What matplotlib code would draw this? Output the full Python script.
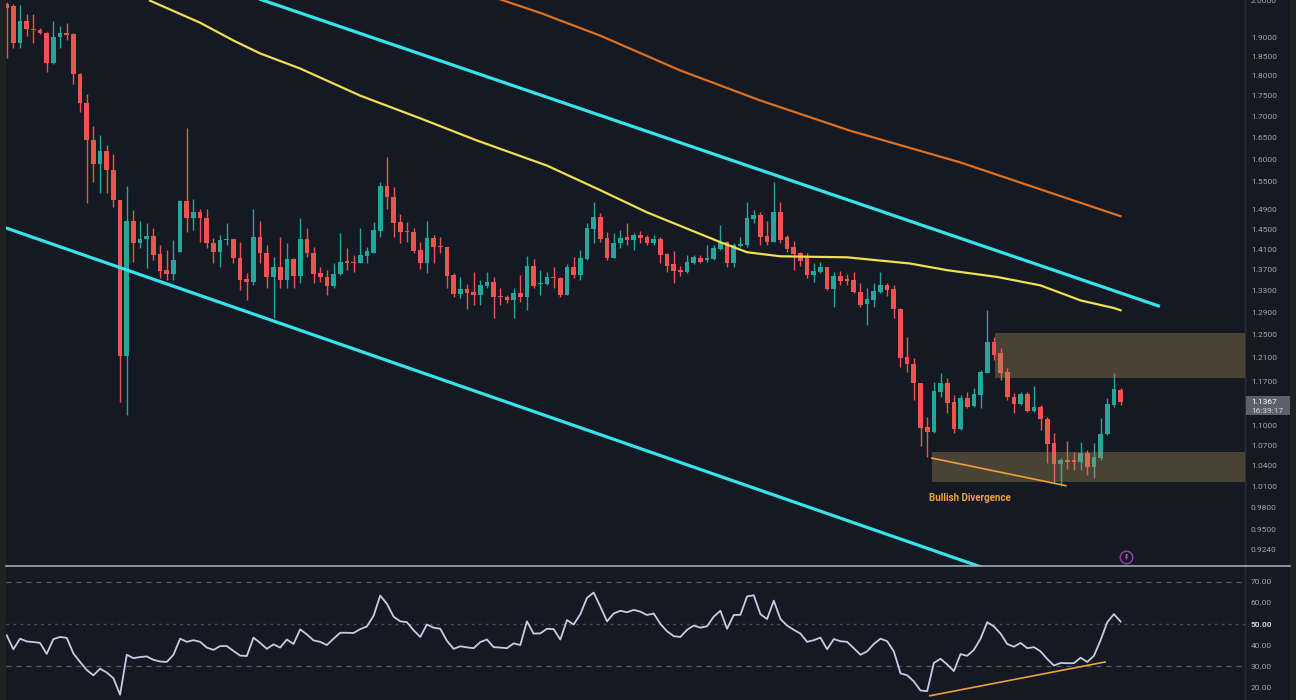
import matplotlib
matplotlib.use('Agg')
import matplotlib.pyplot as plt
from matplotlib import transforms as mtransforms
from matplotlib.patches import Rectangle
from matplotlib.lines import Line2D
from matplotlib.ticker import FixedLocator, FixedFormatter, NullLocator

# 캔들 데이터
opens = [1.992, 1.986, 1.885, 1.945, 1.923, 1.919, 1.912, 1.831, 1.901, 1.912,
         1.909, 1.805, 1.733, 1.645, 1.589, 1.620, 1.577, 1.510, 1.213, 1.468,
         1.422, 1.430, 1.436, 1.400, 1.369, 1.361, 1.404, 1.508, 1.473, 1.485,
         1.473, 1.422, 1.404, 1.428, 1.430, 1.392, 1.352, 1.346, 1.434, 1.402,
         1.356, 1.375, 1.350, 1.390, 1.357, 1.430, 1.402, 1.363, 1.356, 1.338,
         1.361, 1.386, 1.384, 1.382, 1.396, 1.402, 1.446, 1.542, 1.517, 1.464,
         1.446, 1.444, 1.408, 1.382, 1.432, 1.416, 1.414, 1.359, 1.323, 1.333,
         1.327, 1.322, 1.338, 1.346, 1.320, 1.318, 1.312, 1.325, 1.318, 1.377,
         1.342, 1.342, 1.356, 1.354, 1.322, 1.375, 1.359, 1.390, 1.450, 1.475,
         1.432, 1.392, 1.422, 1.434, 1.428, 1.438, 1.434, 1.422, 1.430, 1.400,
         1.380, 1.369, 1.365, 1.382, 1.392, 1.388, 1.390, 1.410, 1.424, 1.382,
         1.416, 1.418, 1.471, 1.479, 1.436, 1.424, 1.485, 1.434, 1.414, 1.402,
         1.392, 1.359, 1.365, 1.375, 1.333, 1.357, 1.352, 1.350, 1.327, 1.305,
         1.312, 1.327, 1.340, 1.333, 1.296, 1.211, 1.200, 1.168, 1.098, 1.090,
         1.153, 1.168, 1.137, 1.095, 1.143, 1.131, 1.148, 1.185, 1.237, 1.218,
         1.186, 1.145, 1.134, 1.150, 1.123, 1.129, 1.110, 1.074, 1.042, 1.048,
         1.047, 1.045, 1.059, 1.038, 1.051, 1.087, 1.132, 1.157]
highs = [1.997, 1.992, 1.989, 1.964, 1.964, 1.926, 1.913, 1.945, 1.929, 1.939,
         1.910, 1.806, 1.753, 1.678, 1.655, 1.632, 1.613, 1.510, 1.542, 1.489,
         1.468, 1.462, 1.452, 1.418, 1.408, 1.428, 1.510, 1.671, 1.514, 1.493,
         1.493, 1.432, 1.438, 1.462, 1.430, 1.424, 1.363, 1.493, 1.468, 1.418,
         1.394, 1.434, 1.422, 1.392, 1.473, 1.452, 1.414, 1.375, 1.369, 1.382,
         1.442, 1.412, 1.398, 1.452, 1.414, 1.464, 1.549, 1.606, 1.538, 1.481,
         1.466, 1.452, 1.424, 1.468, 1.438, 1.434, 1.414, 1.363, 1.356, 1.342,
         1.365, 1.350, 1.365, 1.356, 1.335, 1.322, 1.336, 1.359, 1.396, 1.390,
         1.369, 1.365, 1.375, 1.356, 1.380, 1.394, 1.408, 1.462, 1.506, 1.483,
         1.444, 1.442, 1.448, 1.462, 1.442, 1.446, 1.438, 1.438, 1.434, 1.402,
         1.406, 1.378, 1.398, 1.398, 1.398, 1.418, 1.418, 1.458, 1.426, 1.422,
         1.434, 1.506, 1.489, 1.485, 1.468, 1.549, 1.506, 1.438, 1.426, 1.404,
         1.402, 1.382, 1.384, 1.375, 1.365, 1.367, 1.361, 1.365, 1.344, 1.336,
         1.344, 1.365, 1.344, 1.340, 1.298, 1.246, 1.210, 1.168, 1.113, 1.170,
         1.185, 1.176, 1.148, 1.148, 1.153, 1.160, 1.190, 1.294, 1.246, 1.227,
         1.193, 1.151, 1.153, 1.153, 1.163, 1.132, 1.113, 1.089, 1.051, 1.077,
         1.060, 1.075, 1.063, 1.074, 1.112, 1.143, 1.185, 1.160]
lows = [1.844, 1.872, 1.872, 1.904, 1.885, 1.909, 1.810, 1.829, 1.872, 1.893,
        1.780, 1.709, 1.504, 1.549, 1.527, 1.527, 1.496, 1.137, 1.117, 1.384,
        1.412, 1.373, 1.388, 1.354, 1.350, 1.350, 1.404, 1.444, 1.448, 1.424,
        1.412, 1.382, 1.375, 1.418, 1.382, 1.331, 1.312, 1.340, 1.382, 1.336,
        1.280, 1.335, 1.335, 1.336, 1.344, 1.394, 1.344, 1.346, 1.322, 1.335,
        1.359, 1.369, 1.365, 1.382, 1.382, 1.402, 1.434, 1.493, 1.434, 1.422,
        1.424, 1.402, 1.371, 1.363, 1.382, 1.402, 1.336, 1.318, 1.316, 1.296,
        1.303, 1.303, 1.335, 1.280, 1.303, 1.307, 1.280, 1.309, 1.294, 1.336,
        1.322, 1.340, 1.336, 1.318, 1.322, 1.354, 1.350, 1.388, 1.422, 1.424,
        1.388, 1.392, 1.412, 1.418, 1.408, 1.422, 1.418, 1.418, 1.382, 1.365,
        1.344, 1.357, 1.363, 1.380, 1.382, 1.384, 1.388, 1.408, 1.375, 1.375,
        1.414, 1.414, 1.462, 1.418, 1.418, 1.424, 1.422, 1.404, 1.369, 1.378,
        1.354, 1.346, 1.363, 1.331, 1.299, 1.340, 1.340, 1.325, 1.299, 1.267,
        1.299, 1.325, 1.320, 1.280, 1.195, 1.186, 1.140, 1.069, 1.053, 1.089,
        1.145, 1.120, 1.089, 1.093, 1.128, 1.129, 1.128, 1.185, 1.206, 1.173,
        1.140, 1.120, 1.132, 1.121, 1.121, 1.093, 1.044, 1.015, 1.011, 1.035,
        1.034, 1.034, 1.026, 1.022, 1.048, 1.086, 1.129, 1.132]
closes = [1.980, 1.885, 1.945, 1.923, 1.918, 1.911, 1.831, 1.901, 1.912, 1.907,
          1.805, 1.733, 1.645, 1.589, 1.620, 1.577, 1.510, 1.213, 1.468, 1.422,
          1.430, 1.436, 1.398, 1.367, 1.361, 1.388, 1.508, 1.473, 1.485, 1.473,
          1.422, 1.404, 1.428, 1.430, 1.392, 1.350, 1.346, 1.434, 1.402, 1.356,
          1.375, 1.350, 1.390, 1.357, 1.430, 1.402, 1.361, 1.356, 1.338, 1.361,
          1.384, 1.382, 1.382, 1.398, 1.406, 1.448, 1.542, 1.517, 1.462, 1.444,
          1.444, 1.406, 1.382, 1.432, 1.414, 1.414, 1.357, 1.323, 1.333, 1.325,
          1.322, 1.340, 1.346, 1.318, 1.318, 1.312, 1.325, 1.318, 1.377, 1.338,
          1.344, 1.356, 1.354, 1.322, 1.375, 1.359, 1.392, 1.452, 1.475, 1.430,
          1.392, 1.422, 1.432, 1.428, 1.438, 1.432, 1.422, 1.430, 1.398, 1.378,
          1.367, 1.365, 1.384, 1.394, 1.384, 1.392, 1.412, 1.424, 1.382, 1.418,
          1.420, 1.473, 1.479, 1.434, 1.424, 1.485, 1.428, 1.410, 1.400, 1.386,
          1.359, 1.367, 1.375, 1.333, 1.357, 1.348, 1.348, 1.327, 1.303, 1.314,
          1.329, 1.340, 1.331, 1.296, 1.210, 1.200, 1.168, 1.096, 1.090, 1.155,
          1.168, 1.136, 1.095, 1.143, 1.129, 1.150, 1.186, 1.237, 1.215, 1.185,
          1.145, 1.134, 1.150, 1.123, 1.129, 1.110, 1.072, 1.042, 1.048, 1.045,
          1.045, 1.059, 1.038, 1.053, 1.087, 1.134, 1.158, 1.1367]

# RSI 값
rsi = [44.6, 38, 43, 41.7, 41.4, 41, 35.8, 42.8, 43.8, 43.4,
       36, 32, 28.2, 25.7, 28.8, 27, 24.3, 16.5, 35.4, 33.8,
       34.3, 34.6, 33, 32.2, 32, 35.4, 43, 41.5, 42.3, 41.5,
       38.8, 37.7, 39.5, 39.5, 37.2, 35, 34.8, 43.5, 41, 38.2,
       40.3, 38.8, 42.6, 40.5, 47.4, 45, 42.2, 41.5, 40, 43,
       45.8, 45.8, 45.7, 47.5, 48.8, 53.8, 63.4, 59.5, 53.4, 51.2,
       50.8, 47, 43.8, 49.7, 48.2, 47.7, 42, 38.2, 39.4, 38.9,
       38.5, 41.4, 42.6, 39, 38.8, 38.5, 40.8, 40, 51.2, 45.4,
       45.5, 47.7, 47.5, 42.6, 51.8, 49.7, 54.6, 62.3, 64.8, 58.2,
       51.2, 54.9, 56.2, 55.5, 56.6, 55.8, 54.2, 54.9, 50, 46.5,
       44.2, 43.8, 47.2, 49.2, 48.2, 48.9, 53.4, 56.2, 47.7, 54.2,
       54.3, 63, 63.5, 54.6, 52.3, 61, 52.3, 49.2, 47.2, 45.4,
       41.5, 42.3, 43.5, 38, 42.8, 41.8, 41.5, 38.5, 35.4, 37,
       40.5, 43, 41.8, 37, 26.6, 25.7, 22.8, 18.5, 18.2, 31.5,
       33.5, 30.8, 27.7, 35.7, 34.9, 37.7, 43, 50.8, 48.8, 45.4,
       40.5, 39.2, 41, 38.5, 39, 37, 33.4, 30.3, 31.5, 31.4,
       31.4, 34, 32, 34.9, 42.3, 50.8, 54.6, 51.1]

# 이동평균선 (차트에서 읽은 점들: 캔들 번호, 가격)
ma_yellow_x = [21.5, 29, 34, 38, 44, 53, 62, 70.5, 81, 89, 96, 107, 111, 116,
               126, 135.4, 141, 148.5, 155, 161, 166, 167]
ma_yellow_y = [2.000, 1.939, 1.891, 1.857, 1.818, 1.750, 1.695, 1.643, 1.586,
               1.532, 1.485, 1.424, 1.404, 1.396, 1.394, 1.382, 1.369, 1.356,
               1.340, 1.312, 1.298, 1.294]
ma_orange_x = [73, 80, 89, 101, 113, 126.4, 143, 156.4, 167]
ma_orange_y = [2.010, 1.966, 1.904, 1.813, 1.738, 1.666, 1.593, 1.527, 1.477]

# 추세 채널 (시작/끝 점)
channel_upper = [(30, 2.056), (172.9, 1.301)]
channel_lower = [(-1, 1.457), (147, 0.899)]

# 박스 구간 (시작 캔들, 아래, 위)
zone_upper = (148.2, 1.176, 1.253)
zone_lower = (138.7, 1.016, 1.060)

# 다이버전스 선
div_price = [(138.7, 1.051), (158.8, 1.011)]
div_rsi = [(138.4, 16.0), (164.7, 32.0)]

price_ticks = [2.0, 1.9, 1.85, 1.8, 1.75, 1.7, 1.65, 1.6, 1.55, 1.49, 1.45, 1.41,
               1.37, 1.33, 1.29, 1.25, 1.21, 1.17, 1.10, 1.07, 1.04, 1.01, 0.98,
               0.95, 0.924]
rsi_ticks = [20, 30, 40, 50, 60, 70]

BG = '#151924'
UP = '#26a69a'
DOWN = '#ef5350'
TXT = '#a3a6af'

plt.rcParams['font.family'] = ['Roboto', 'DejaVu Sans']

W, H = 1296, 700
fig = plt.figure(figsize=(W / 100, H / 100), dpi=100, facecolor=BG)
ax = fig.add_axes([6 / W, 134 / H, 1239 / W, 566 / H], facecolor=BG)
ax2 = fig.add_axes([6 / W, 0, 1239 / W, 133 / H], facecolor=BG)

xmin, xmax = -0.105, 185.65
n = len(closes)
xs = list(range(n))

# 캔들 그리기
colors = [UP if c >= o else DOWN for o, c in zip(opens, closes)]
ax.vlines(xs, lows, highs, colors=colors, linewidth=1.0, zorder=3)
bottoms = [min(o, c) for o, c in zip(opens, closes)]
heights = [max(abs(c - o), 0.0025) for o, c in zip(opens, closes)]
ax.bar(xs, heights, bottom=bottoms, width=0.7, color=colors, linewidth=0, zorder=4)

# 이동평균선과 채널
ax.plot(ma_yellow_x, ma_yellow_y, color='#f2de4f', linewidth=1.6, zorder=5)
ax.plot(ma_orange_x, ma_orange_y, color='#e0701e', linewidth=1.6, zorder=5)
for line in (channel_upper, channel_lower):
    ax.plot([p[0] for p in line], [p[1] for p in line], color='#35e3e8',
            linewidth=2.3, solid_capstyle='butt', zorder=5)

# 박스 구간
for x0, lo, hi in (zone_upper, zone_lower):
    ax.add_patch(Rectangle((x0, lo), xmax - x0, hi - lo, facecolor='#af9155',
                           alpha=0.35, linewidth=0, zorder=6))

ax.plot([p[0] for p in div_price], [p[1] for p in div_price], color='#eda13a',
        linewidth=1.2, zorder=7)
ax.text(144.4, 0.994, 'Bullish Divergence', color='#eda13a', fontsize=7,
        fontweight='bold', ha='center', va='center', zorder=7)

# 번개 아이콘
bolt = [(-0.15, 1.0), (0.45, 1.0), (0.1, 0.15), (0.5, 0.15), (-0.35, -1.0),
        (-0.05, -0.1), (-0.45, -0.1), (-0.15, 1.0)]
ax.plot([167.8], [0.9148], marker='o', markersize=9, markerfacecolor='none',
        markeredgecolor='#9c3fb0', markeredgewidth=1.0, zorder=7)
ax.plot([167.8], [0.9148], marker=bolt, markersize=5, markerfacecolor='#b050c8',
        markeredgewidth=0, zorder=8)

ax.set_yscale('log')
ax.set_xlim(xmin, xmax)
ax.set_ylim(0.9030, 2.002)

# 가격축 눈금
ax.yaxis.tick_right()
ax.yaxis.set_major_locator(FixedLocator(price_ticks))
ax.yaxis.set_major_formatter(FixedFormatter(['%.4f' % t for t in price_ticks]))
ax.yaxis.set_minor_locator(NullLocator())
ax.tick_params(axis='y', length=0, pad=4.3, labelsize=6, labelcolor=TXT)
ax.set_xticks([])

# 현재가 라벨
last = closes[-1]
trans = mtransforms.blended_transform_factory(ax.transAxes, ax.transData)
ax.add_patch(Rectangle((1.0005, last * 0.9825), 45 / 1239, last * 0.027,
                       transform=trans, facecolor='#5d606b', linewidth=0,
                       clip_on=False, zorder=10))
ax.text(1.0 + 6 / 1239, last * 1.0005, '%.4f' % last, transform=trans,
        color='#ffffff', fontsize=6, va='center', ha='left', clip_on=False, zorder=11)
ax.text(1.0 + 6 / 1239, last * 0.9885, '16:39:17', transform=trans,
        color='#d1d4dc', fontsize=6, va='center', ha='left', clip_on=False, zorder=11)

# RSI 패널
ax2.plot(xs, rsi, color='#c5cde3', linewidth=1.3, zorder=3)
ax2.plot([p[0] for p in div_rsi], [p[1] for p in div_rsi], color='#eda13a',
         linewidth=1.2, zorder=4)
ax2.axhline(70, color='#5d606b', linewidth=0.9, linestyle=(0, (4, 4)), zorder=1)
ax2.axhline(30, color='#5d606b', linewidth=0.9, linestyle=(0, (4, 4)), zorder=1)
ax2.axhline(50, color='#4a4d58', linewidth=1.0, linestyle=(0, (2, 3)), zorder=1)
ax2.set_xlim(xmin, xmax)
ax2.set_ylim(14.0, 76.9)
ax2.yaxis.tick_right()
ax2.set_yticks(rsi_ticks)
ax2.set_yticklabels(['%.2f' % t for t in rsi_ticks])
ax2.tick_params(axis='y', length=0, pad=4.3, labelsize=6, labelcolor=TXT)
for lbl in ax2.get_yticklabels():
    if lbl.get_text() == '50.00':
        lbl.set_fontweight('bold')
        lbl.set_color('#d1d4dc')
ax2.set_xticks([])

for a in (ax, ax2):
    for side in ('top', 'left', 'bottom'):
        a.spines[side].set_visible(False)
    a.spines['right'].set_color('#2a2e39')
    a.spines['right'].set_linewidth(1.0)

# 패널 구분선과 테두리
fig.add_artist(Line2D([6 / W, 1290 / W], [134 / H, 134 / H], color='#b2b5be',
                      linewidth=1.1, transform=fig.transFigure))
fig.add_artist(Rectangle((0, 0), 6 / W, 1, transform=fig.transFigure,
                         facecolor='#1f2220', linewidth=0))
fig.add_artist(Rectangle((1290 / W, 0), 6 / W, 1, transform=fig.transFigure,
                         facecolor='#1f2220', linewidth=0))

fig.savefig('out.png', dpi=100, facecolor=BG)
